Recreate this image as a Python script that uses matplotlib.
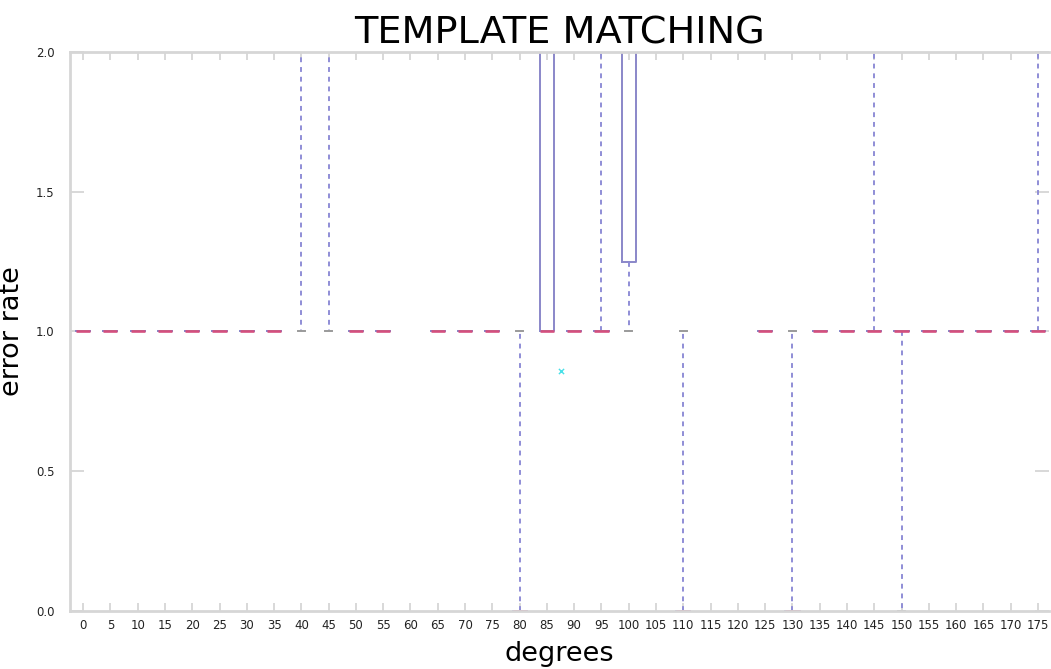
import numpy as np
import matplotlib
matplotlib.use("Agg")
import matplotlib.pyplot as plt

# Orientation angles (degrees) and per-angle box statistics of the error rate.
degrees = list(range(0, 180, 5))
nan = np.nan
# angles with no measurements in range are left as NaN
whislo = [1, 1, 1, 1, 1, 1, 1, 1, 1.0, 1.0, 1, 1, nan, 1, 1, 1, 0.0, 1, 1, 1, 1.0, nan, 0.0, nan, nan, 1, 0.0, 1, 1, 1, 0.0, 1, 1, 1, 1, 1]
q1     = [1, 1, 1, 1, 1, 1, 1, 1, 2.5, 2.5, 1, 1, nan, 1, 1, 1, 0.0, 1, 1, 1, 1.25, nan, 0.0, nan, nan, 1, 0.0, 1, 1, 1, 1.0, 1, 1, 1, 1, 1]
med    = [1, 1, 1, 1, 1, 1, 1, 1, 3.0, 3.0, 1, 1, nan, 1, 1, 1, 0.0, 1, 1, 1, 2.5,  nan, 0.0, nan, nan, 1, 0.0, 1, 1, 1, 1.0, 1, 1, 1, 1, 1]
q3     = [1, 1, 1, 1, 1, 1, 1, 1, 3.5, 3.5, 1, 1, nan, 1, 1, 1, 0.0, 3, 1, 1, 3.0,  nan, 0.0, nan, nan, 1, 0.0, 1, 1, 1, 1.0, 1, 1, 1, 1, 1]
whishi = [1, 1, 1, 1, 1, 1, 1, 1, 4.0, 4.0, 1, 1, nan, 1, 1, 1, 1.0, 3, 1, 3, 3.0,  nan, 1.0, nan, nan, 1, 1.0, 1, 1, 3, 1.0, 1, 1, 1, 1, 3]
# single stray point between the 85 and 90 degree groups
flier_x = [17.5]
flier_y = [0.86]

stats = []
positions = []
for i, d in enumerate(degrees):
    if np.isnan(med[i]):
        continue
    stats.append(dict(med=med[i], q1=q1[i], q3=q3[i],
                      whislo=whislo[i], whishi=whishi[i], fliers=[]))
    positions.append(i)

plt.rcParams['font.family'] = ['DejaVu Sans']

fig = plt.figure(figsize=(10.51, 6.69), dpi=100)
ax = fig.add_axes([0.0666, 0.0867, 0.998 - 0.0666, 0.9223 - 0.0867])

box_col = '#8a87c9'
whisk_col = '#8f8dd6'
med_col = '#d44f7e'
axis_col = '#d6d6d6'

ax.bxp(stats, positions=positions, widths=0.52, showfliers=False,
       boxprops=dict(color=box_col, linewidth=1.4),
       medianprops=dict(color=med_col, linewidth=1.9),
       whiskerprops=dict(color=whisk_col, linewidth=1.4, linestyle=(0, (2.5, 2.5))),
       capprops=dict(color='#9a9a9a', linewidth=1.4))

ax.scatter(flier_x, flier_y, marker='x', s=14, color='#48e0e8', linewidths=1.0, zorder=4)

ax.set_xlim(-0.48, 35.4)
ax.set_ylim(0, 2.0)
ax.set_xticks(range(len(degrees)))
ax.set_xticklabels([str(d) for d in degrees], fontsize=8.5, color='#222222')
ax.set_yticks([0.0, 0.5, 1.0, 1.5, 2.0])
ax.set_yticklabels(['0.0', '0.5', '1.0', '1.5', '2.0'], fontsize=8.5, color='#222222')

for side in ('left', 'bottom', 'top'):
    ax.spines[side].set_color(axis_col)
    ax.spines[side].set_linewidth(2.0)
    ax.spines[side].set_zorder(5)
ax.spines['right'].set_visible(False)

ax.tick_params(axis='x', which='both', direction='in', length=6, width=1.3,
               color=axis_col, top=True, bottom=True, pad=6)
ax.tick_params(axis='y', which='both', direction='in', length=10, width=1.3,
               color=axis_col, left=True, right=True, pad=11)

ax.set_title('TEMPLATE MATCHING', fontsize=27.5, pad=5, color='black')
ax.set_xlabel('degrees', fontsize=19.5, labelpad=6)
ax.set_ylabel('error rate', fontsize=19.5, labelpad=8)

fig.savefig('out.png', dpi=100)
